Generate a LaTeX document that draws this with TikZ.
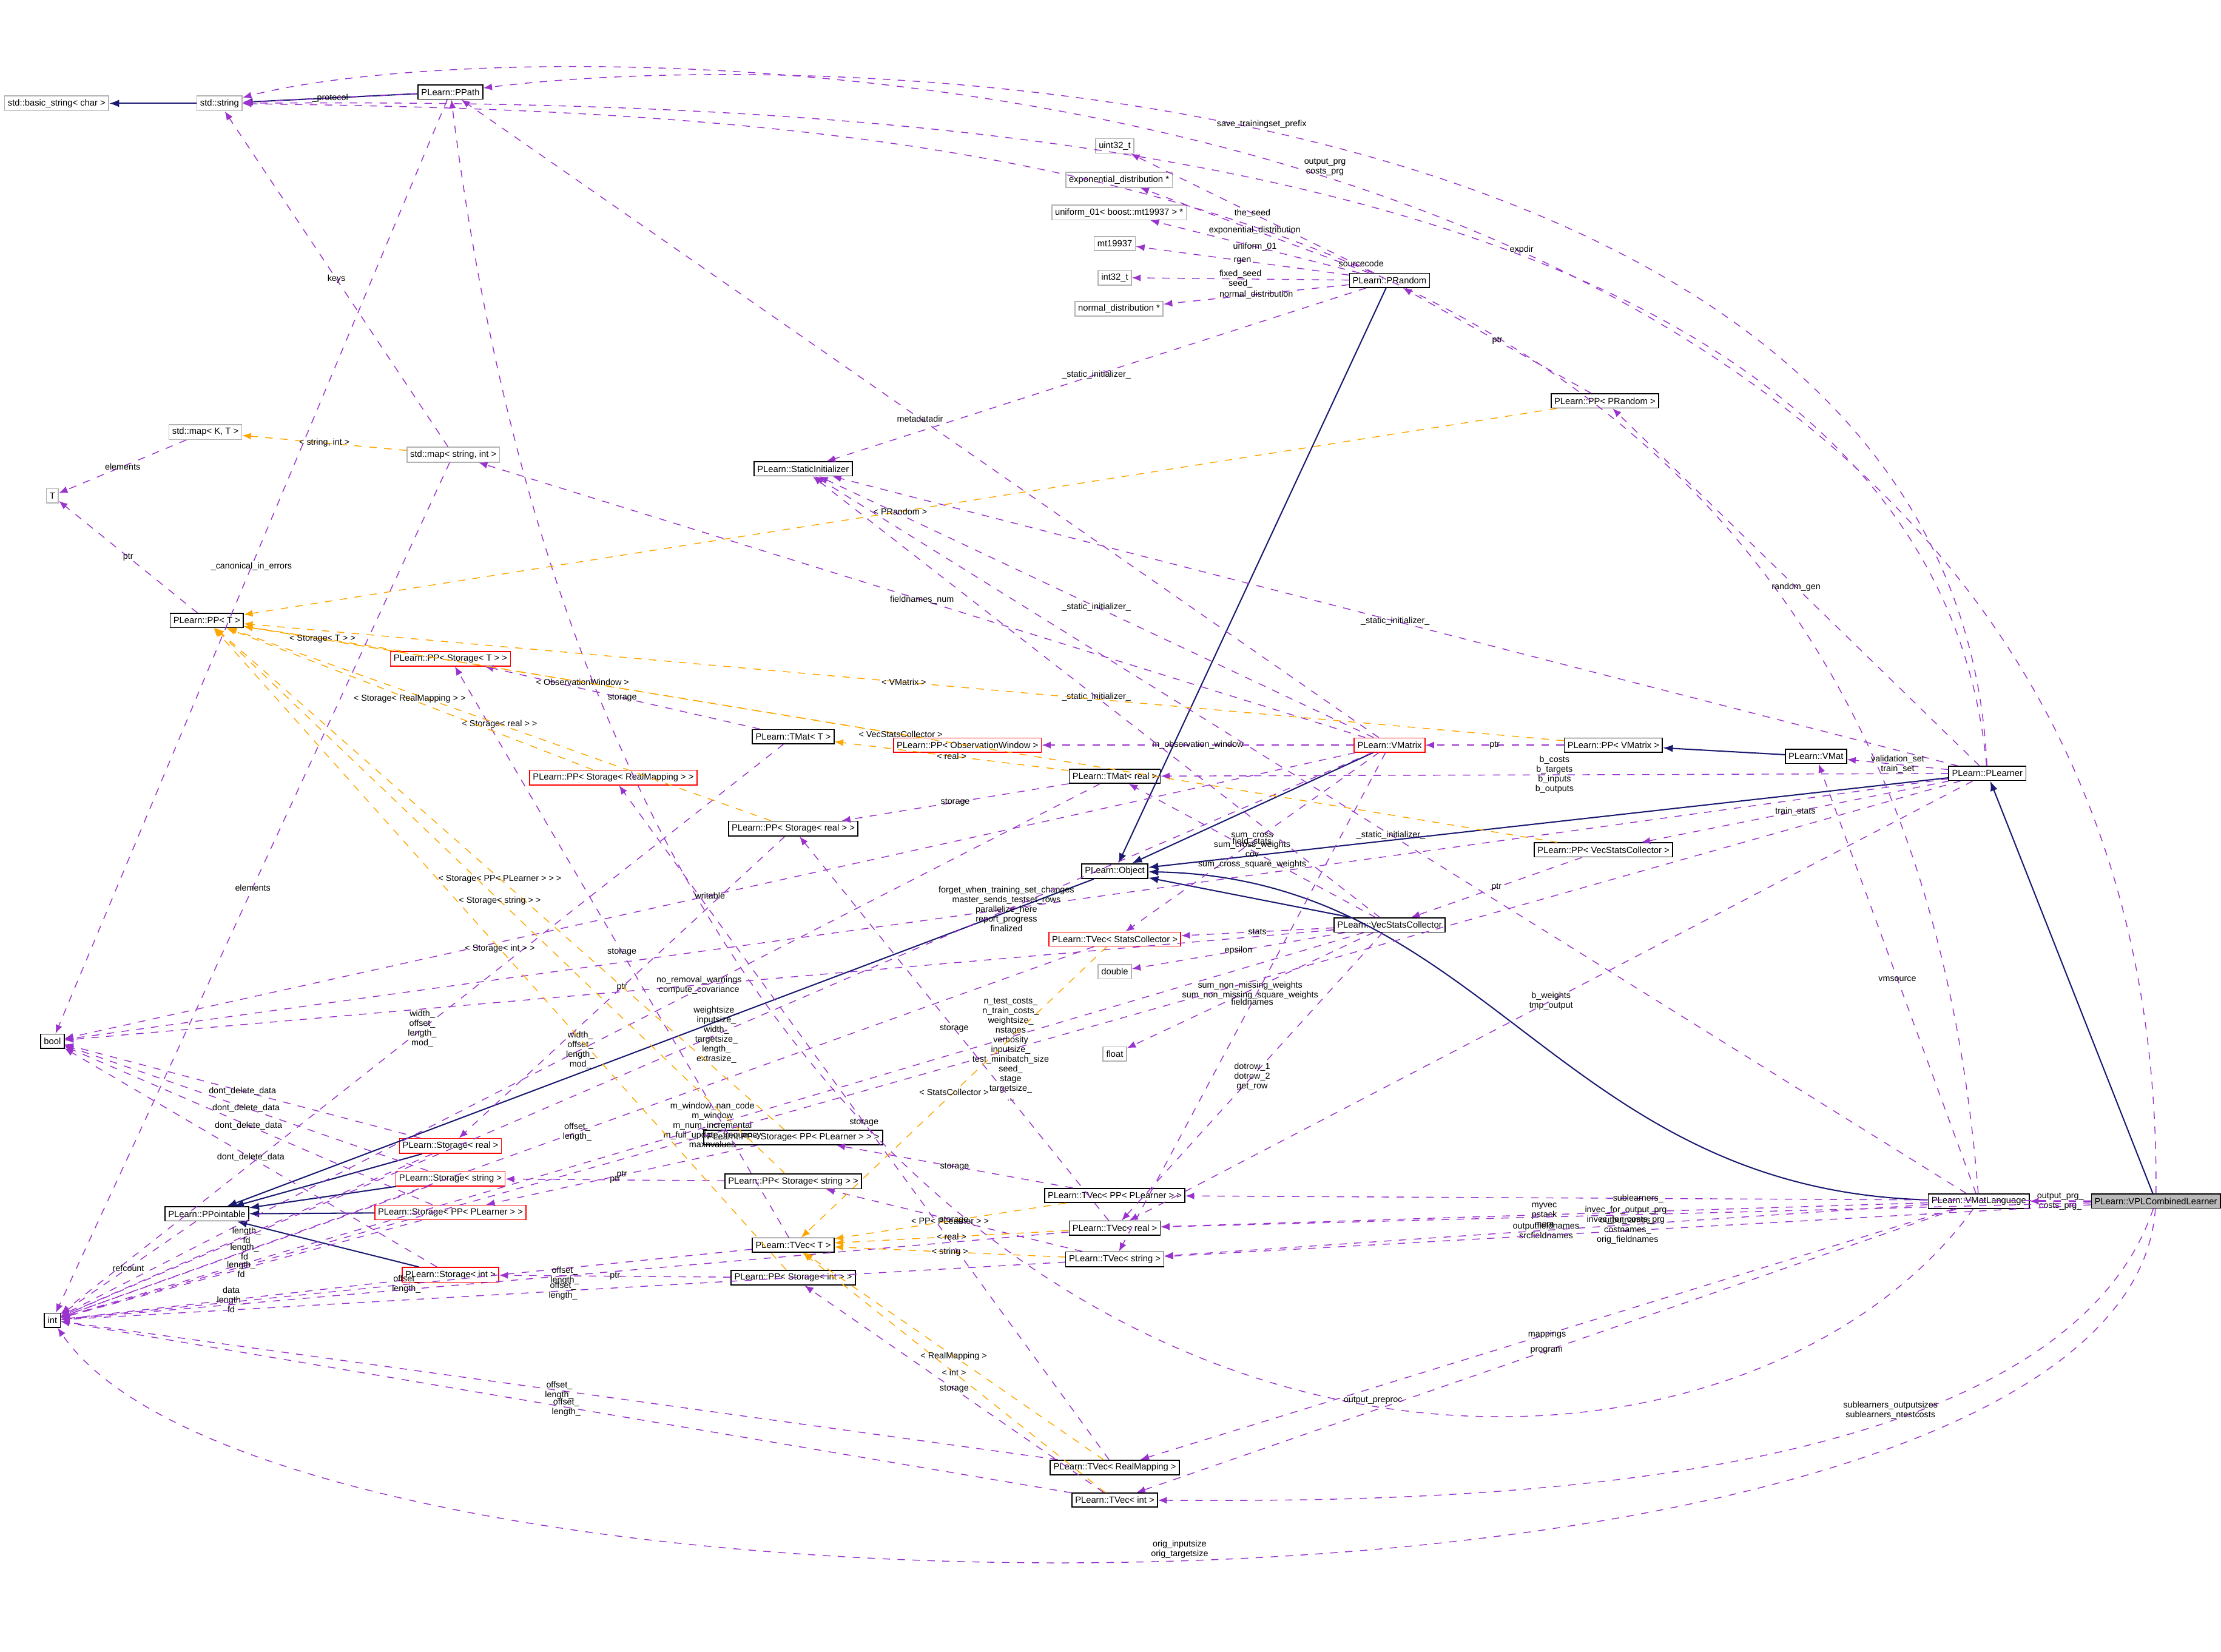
\documentclass[tikz,border=0pt]{standalone}
\usepackage{fontspec}
\setmainfont{Liberation Sans}
\usetikzlibrary{arrows.meta}
\definecolor{inhcol}{HTML}{191970}
\definecolor{usecol}{HTML}{9A32CD}
\definecolor{tplcol}{HTML}{FFA500}
\tikzset{
  cls/.style={draw=black,rectangle,inner sep=1.3pt,minimum height=0.2cm,fill=white,font=\fontsize{3.6}{4}\selectfont},
  ext/.style={cls,draw=gray!60},
  bad/.style={cls,draw=red},
  main/.style={cls,fill=gray!55},
  inh/.style={draw=inhcol,line width=0.5pt,-{Latex[length=4pt,width=3pt]}},
  use/.style={draw=usecol,dashed,line width=0.35pt,-{Latex[length=3.5pt,width=2.8pt]}},
  tpl/.style={draw=tplcol,dashed,line width=0.35pt,-{Latex[length=3.5pt,width=2.8pt]}},
  lbl/.style={font=\fontsize{3.5}{3.9}\selectfont,align=center,inner sep=0.5pt,text=black}
}
\begin{document}
\begin{tikzpicture}
  [x=0.02cm,y=-0.02cm]
  \useasboundingbox (0,0) rectangle (1568,1166);

  \node[ext] (bstr) at (40,73) {std::basic\_string< char >};
  \node[ext] (str) at (155,73) {std::string};
  \node[cls] (ppath) at (318,65) {PLearn::PPath};
  \node[ext] (u32) at (787,103) {uint32\_t};
  \node[ext] (expd) at (790,127) {exponential\_distribution *};
  \node[ext] (unif) at (790,150) {uniform\_01< boost::mt19937 > *};
  \node[ext] (mt) at (787,172) {mt19937};
  \node[ext] (i32) at (787,196) {int32\_t};
  \node[ext] (normd) at (790,218) {normal\_distribution *};
  \node[cls] (prand) at (981,198) {PLearn::PRandom};
  \node[cls] (pprand) at (1133,283) {PLearn::PP< PRandom >};
  \node[ext] (mapkt) at (145,305) {std::map< K, T >};
  \node[ext] (T) at (37,350) {T};
  \node[ext] (mapsi) at (320,321) {std::map< string, int >};
  \node[cls] (sinit) at (567,331) {PLearn::StaticInitializer};
  \node[cls] (ppT) at (146,438) {PLearn::PP< T >};
  \node[bad] (ppsT) at (318,465) {PLearn::PP< Storage< T > >};
  \node[cls] (tmatT) at (560,520) {PLearn::TMat< T >};
  \node[bad] (ppow) at (683,526) {PLearn::PP< ObservationWindow >};
  \node[bad] (vmatrix) at (981,526) {PLearn::VMatrix};
  \node[cls] (ppvm) at (1139,526) {PLearn::PP< VMatrix >};
  \node[cls] (vmat) at (1282,534) {PLearn::VMat};
  \node[cls] (plearner) at (1403,546) {PLearn::PLearner};
  \node[cls] (tmatr) at (787,548) {PLearn::TMat< real >};
  \node[bad] (ppsrm) at (433,549) {PLearn::PP< Storage< RealMapping > >};
  \node[cls] (ppsr) at (560,585) {PLearn::PP< Storage< real > >};
  \node[cls] (ppvsc) at (1132,600) {PLearn::PP< VecStatsCollector >};
  \node[cls] (object) at (787,615) {PLearn::Object};
  \node[bad] (tvsc) at (787,663) {PLearn::TVec< StatsCollector >};
  \node[cls] (vsc) at (981,653) {PLearn::VecStatsCollector};
  \node[ext] (dbl) at (787,686) {double};
  \node[ext] (flt) at (787,744) {float};
  \node[cls] (bool) at (37,735) {bool};
  \node[cls] (ppspl) at (560,803) {PLearn::PP< Storage< PP< PLearner > > >};
  \node[bad] (storr) at (318,809) {PLearn::Storage< real >};
  \node[cls] (ppss) at (560,834) {PLearn::PP< Storage< string > >};
  \node[bad] (stors) at (318,832) {PLearn::Storage< string >};
  \node[cls] (tvpl) at (787,844) {PLearn::TVec< PP< PLearner > >};
  \node[cls] (pptbl) at (146,857) {PLearn::PPointable};
  \node[bad] (storpl) at (318,856) {PLearn::Storage< PP< PLearner > >};
  \node[cls] (vml) at (1397,848) {PLearn::VMatLanguage};
  \node[main] (vpl) at (1522,848) {PLearn::VPLCombinedLearner};
  \node[cls] (tvr) at (787,867) {PLearn::TVec< real >};
  \node[cls] (tvT) at (560,879) {PLearn::TVec< T >};
  \node[cls] (tvs) at (787,889) {PLearn::TVec< string >};
  \node[bad] (stori) at (318,900) {PLearn::Storage< int >};
  \node[cls] (ppsi) at (560,902) {PLearn::PP< Storage< int > >};
  \node[cls] (int) at (37,932) {int};
  \node[cls] (tvrm) at (787,1036) {PLearn::TVec< RealMapping >};
  \node[cls] (tvi) at (787,1059) {PLearn::TVec< int >};

  % inheritance
  \foreach \from/\to in {str/bstr,ppath/str,prand/object,vpl/plearner,vmat/ppvm,
    vmatrix/object,plearner/object,vsc/object,object/pptbl,storr/pptbl,stors/pptbl,storpl/pptbl,stori/pptbl}
    \draw[inh] (\from) -- (\to);
  \draw[inh] (vml) .. controls (1100,840) and (1050,620) .. (object);

  % usage, routed over the top and bottom
  \draw[use] (vpl) .. controls (1530,20) and (400,10) .. node[lbl,pos=0.5,above]{output\_prg\\costs\_prg} (str);
  \draw[use] (plearner) .. controls (1380,60) and (600,30) .. node[lbl,pos=0.55,above]{save\_trainingset\_prefix} (ppath);
  \draw[use] (plearner) .. controls (1360,90) and (600,70) .. node[lbl,pos=0.4,above]{expdir} (str);
  \draw[use] (vml) .. controls (1340,120) and (700,80) .. node[lbl,pos=0.5,above]{sourcecode} (str);
  \draw[use] (vpl) .. controls (1500,1170) and (200,1170) .. node[lbl,pos=0.5,above]{orig\_inputsize\\orig\_targetsize} (int);
  \draw[use] (vml) .. controls (1200,1120) and (450,1110) .. node[lbl,pos=0.4,above]{output\_preproc} (ppath);
  \draw[use] (vpl) .. controls (1450,1060) and (1000,1060) .. node[lbl,pos=0.35,above]{sublearners\_outputsizes\\sublearners\_ntestcosts} (tvi);

  % usage
  \foreach \from/\to/\txt in {ppath/str/\_protocol,prand/u32/the\_seed,prand/expd/exponential\_distribution,
    prand/unif/uniform\_01,prand/mt/rgen,prand/i32/{fixed\_seed\\seed\_},prand/normd/normal\_distribution,
    prand/sinit/\_static\_initializer\_,pprand/prand/ptr,plearner/pprand/random\_gen,
    plearner/sinit/\_static\_initializer\_,vmatrix/ppath/metadatadir,
    mapsi/str/keys,mapsi/int/elements,mapkt/T/elements,ppT/T/ptr,ppath/bool/\_canonical\_in\_errors,
    vmatrix/sinit/\_static\_initializer\_,vmatrix/mapsi/fieldnames\_num,vmatrix/ppow/m\_observation\_window,
    vmatrix/tvsc/field\_stats,ppvm/vmatrix/ptr,plearner/vmat/{validation\_set\\train\_set},
    plearner/ppvsc/train\_stats,ppvsc/vsc/ptr,
    vsc/tmatr/{sum\_cross\\sum\_cross\_weights\\cov\\sum\_cross\_square\_weights},
    vsc/tvsc/stats,vsc/dbl/epsilon,vsc/sinit/\_static\_initializer\_,
    vsc/bool/{no\_removal\_warnings\\compute\_covariance},
    vsc/tvr/{dotrow\_1\\dotrow\_2\\get\_row},vsc/flt/{sum\_non\_missing\_weights\\sum\_non\_missing\_square\_weights},
    vsc/int/{m\_window\_nan\_code\\m\_window\\m\_num\_incremental\\m\_full\_update\_frequency\\maxnvalues},
    vml/vmat/vmsource,vml/tvr/{myvec\\pstack\\mem},vml/tvs/{outputfieldnames\\srcfieldnames},
    vml/tvrm/mappings,vml/tvi/program,vml/sinit/\_static\_initializer\_,
    vpl/vml/{output\_prg\_\\costs\_prg\_},vpl/tvpl/sublearners\_,
    vpl/tvs/{outputnames\_\\costnames\_\\orig\_fieldnames},
    vpl/tvr/{invec\_for\_output\_prg\\invec\_for\_costs\_prg},
    plearner/bool/{forget\_when\_training\_set\_changes\\master\_sends\_testset\_rows\\parallelize\_here\\report\_progress\\finalized},
    plearner/int/{n\_test\_costs\_\\n\_train\_costs\_\\weightsize\_\\nstages\\verbosity\\inputsize\_\\test\_minibatch\_size\\seed\_\\stage\\targetsize\_\\...},
    plearner/tvr/{b\_weights\\tmp\_output},plearner/tmatr/{b\_costs\\b\_targets\\b\_inputs\\b\_outputs},
    vmatrix/int/{weightsize\_\\inputsize\_\\width\_\\targetsize\_\\length\_\\extrasize\_},vmatrix/bool/writable,
    vmatrix/tvs/fieldnames,tmatT/ppsT/storage,tmatT/int/{width\_\\offset\_\\length\_\\mod\_},
    tmatr/ppsr/storage,tmatr/int/{width\_\\offset\_\\length\_\\mod\_},
    ppsr/storr/ptr,ppss/stors/ptr,ppsi/stori/ptr,ppspl/storpl/ptr,
    storr/int/{length\_\\fd},storr/bool/dont\_delete\_data,stors/int/{length\_\\fd},stors/bool/dont\_delete\_data,
    storpl/int/{length\_\\fd},storpl/bool/dont\_delete\_data,stori/int/{data\\length\_\\fd},stori/bool/dont\_delete\_data,
    pptbl/int/refcount,tvT/ppsT/storage,tvT/int/{offset\_\\length\_},tvr/ppsr/storage,tvr/int/{offset\_\\length\_},
    tvs/ppss/storage,tvs/int/{offset\_\\length\_},tvi/ppsi/storage,tvi/int/{offset\_\\length\_},
    tvrm/ppsrm/storage,tvrm/int/{offset\_\\length\_},tvpl/ppspl/storage,tvsc/int/{offset\_\\length\_}}
    \draw[use] (\from) -- node[lbl]{\txt} (\to);

  % templates
  \foreach \from/\to/\txt in {mapsi/mapkt/{< string, int >},pprand/ppT/{< PRandom >},
    ppvm/ppT/{< VMatrix >},ppow/ppT/{< ObservationWindow >},ppvsc/ppT/{< VecStatsCollector >},
    ppsT/ppT/{< Storage< T > >},ppsr/ppT/{< Storage< real > >},
    ppsrm/ppT/{< Storage< RealMapping > >},ppspl/ppT/{< Storage< PP< PLearner > > >},
    ppss/ppT/{< Storage< string > >},ppsi/ppT/{< Storage< int > >},
    tmatr/tmatT/{< real >},tvr/tvT/{< real >},tvs/tvT/{< string >},tvi/tvT/{< int >},
    tvrm/tvT/{< RealMapping >},tvpl/tvT/{< PP< PLearner > >},tvsc/tvT/{< StatsCollector >}}
    \draw[tpl] (\from) -- node[lbl]{\txt} (\to);
\end{tikzpicture}
\end{document}
